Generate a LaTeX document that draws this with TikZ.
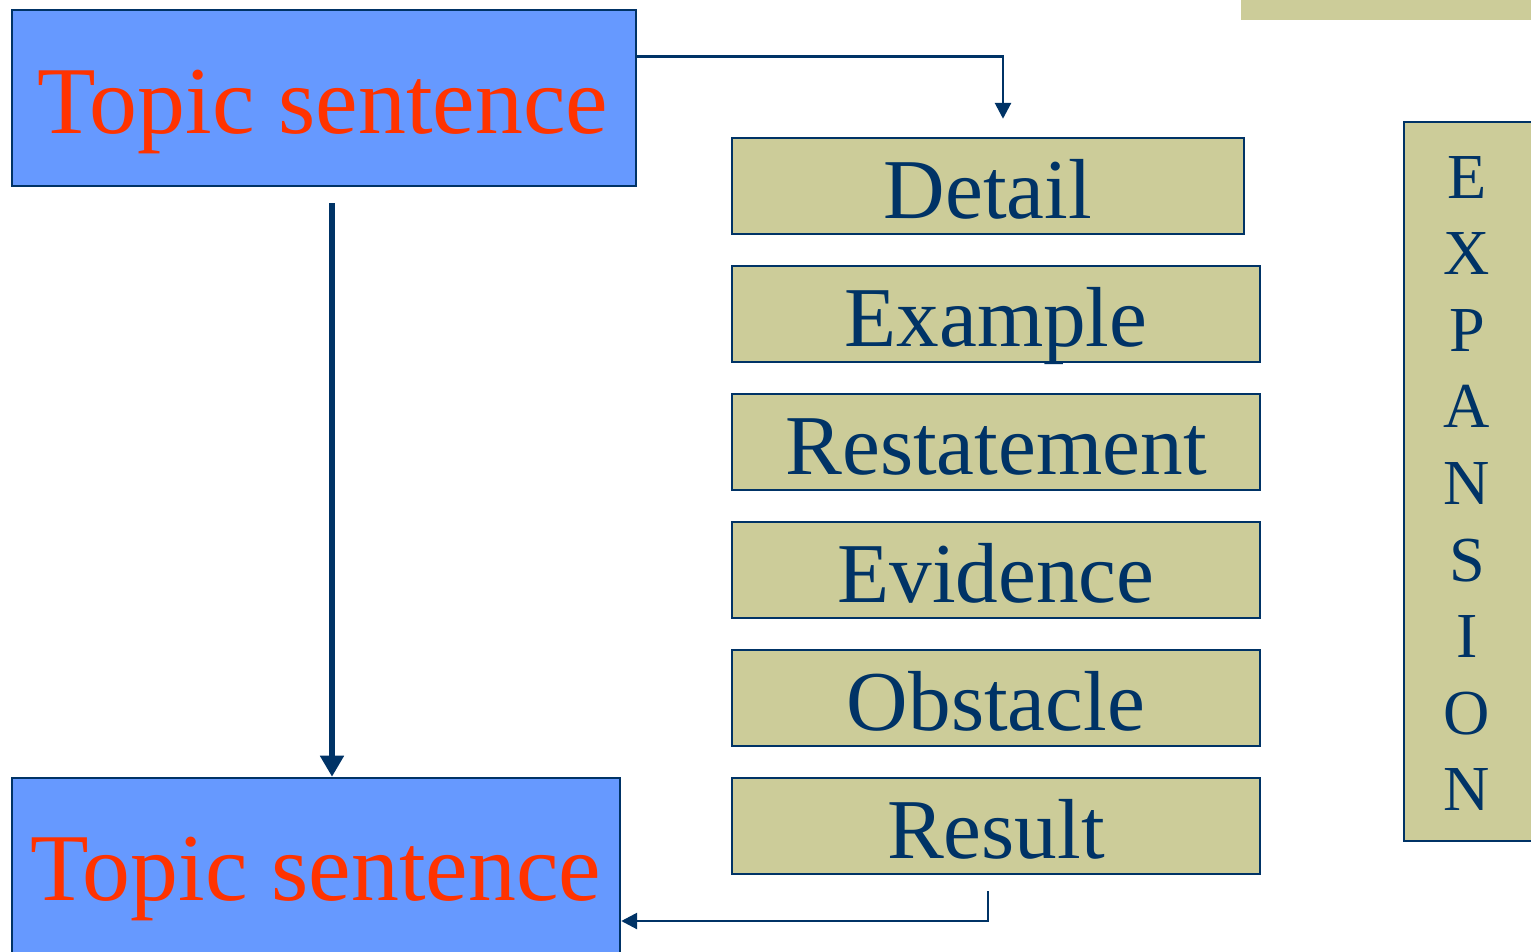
\documentclass[tikz,border=0pt]{standalone}
\usepackage{fontspec}
\setmainfont{Liberation Serif}
\usetikzlibrary{fit,calc,arrows.meta}
\definecolor{navy}{HTML}{003366}
\definecolor{bluefill}{HTML}{6699FF}
\definecolor{tan}{HTML}{CCCC99}
\definecolor{redtxt}{HTML}{FF3300}
\tikzset{
  bluebox/.style={draw=navy, fill=bluefill, line width=1.4pt, inner sep=0pt},
  tanbox/.style={draw=navy, fill=tan, line width=1.4pt, inner sep=0pt},
  topictxt/.style={text=redtxt, font=\fontsize{54.5}{60}\selectfont, anchor=base, inner sep=0pt},
  itemtxt/.style={text=navy, font=\fontsize{48.5}{54}\selectfont, anchor=base, inner sep=0pt},
  lettertxt/.style={text=navy, font=\fontsize{36.5}{40}\selectfont, anchor=base, inner sep=0pt},
  conn/.style={draw=navy, line width=1.6pt, -{Triangle[length=9pt,width=9pt]}},
  thickconn/.style={draw=navy, line width=3.4pt, -{Triangle[length=12pt,width=13pt]}},
}
\begin{document}
\begin{tikzpicture}[x=0.02cm, y=-0.02cm]
\useasboundingbox (0,0) rectangle (1531,951);
\clip (0,0) rectangle (1531,951);
% top tan strip
\node[fill=tan, inner sep=0pt, fit={(1241,-5) (1536,20)}] (strip) {};
% blue boxes
\node[bluebox, fit={(12,10) (636,186)}] (top) {};
\node[topictxt] (toptxt) at (323,133) {Topic sentence};
\node[bluebox, fit={(12,778) (620,1064)}] (bot) {};
\node[topictxt] (bottxt) at (316,900) {Topic sentence};
% tan boxes
\node[tanbox, fit={(732,138) (1244,234)}] (detail) {};
\node[itemtxt] at (988,218) {Detail};
\node[tanbox, fit={(732,266) (1260,362)}] (example) {};
\node[itemtxt] at (996,346) {Example};
\node[tanbox, fit={(732,394) (1260,490)}] (restatement) {};
\node[itemtxt] at (996,474) {Restatement};
\node[tanbox, fit={(732,522) (1260,618)}] (evidence) {};
\node[itemtxt] at (996,602) {Evidence};
\node[tanbox, fit={(732,650) (1260,746)}] (obstacle) {};
\node[itemtxt] at (996,730) {Obstacle};
\node[tanbox, fit={(732,778) (1260,874)}] (result) {};
\node[itemtxt] at (996,858) {Result};
% expansion box
\node[tanbox, fit={(1404,122) (1560,841)}] (expansion) {};
\foreach \l [count=\i] in {E,X,P,A,N,S,I,O,N}
  \node[lettertxt] (let\i) at (1467,{198+76.6*(\i-1)}) {\l};
% connectors
\coordinate (a1e) at ($(detail.north)+(15,-18)$);
\draw[conn] ($(top.north east)+(0,48)$) -| (a1e);
\coordinate (a2s) at ($(top.south)+(8,16)$);
\draw[thickconn] (a2s) -- (a2s |- bot.north);
\coordinate (a3s) at ($(result.south)+(-8,16)$);
\draw[conn] (a3s) |- (bot.east);
\end{tikzpicture}
\end{document}
